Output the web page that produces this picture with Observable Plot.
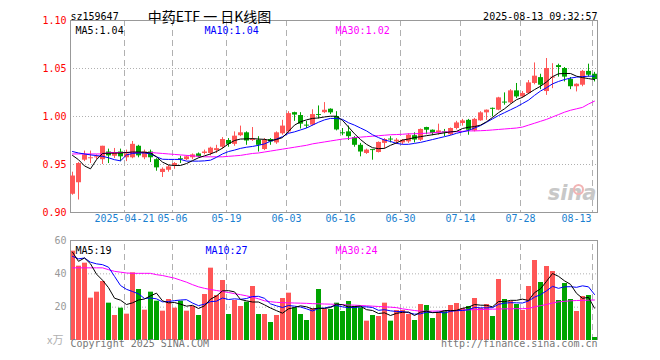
<!DOCTYPE html>
<html><head><meta charset="utf-8">
<script src="https://cdn.jsdelivr.net/npm/d3@7"></script>
<script src="https://cdn.jsdelivr.net/npm/@observablehq/plot@0.6"></script>
<style>
body{margin:0;background:#fff;}
#chart{position:relative;width:660px;height:360px;overflow:hidden;background:#fff;}
#chart svg{position:absolute;left:0;overflow:visible;}
</style></head><body><div id="chart"></div>
<script>
const dates = ["04-08","04-09","04-10","04-11","04-14","04-15","04-16","04-17","04-18","04-21","04-22","04-23","04-24","04-25","04-28","04-29","04-30",
"05-06","05-07","05-08","05-09","05-12","05-13","05-14","05-15","05-16","05-19","05-20","05-21","05-22","05-23","05-26","05-27","05-28","05-29","05-30",
"06-03","06-04","06-05","06-06","06-09","06-10","06-11","06-12","06-13","06-16","06-17","06-18","06-19","06-20","06-23","06-24","06-25","06-26","06-27","06-30",
"07-01","07-02","07-03","07-04","07-07","07-08","07-09","07-10","07-11","07-14","07-15","07-16","07-17","07-18","07-21","07-22","07-23","07-24","07-25","07-28","07-29","07-30","07-31",
"08-01","08-04","08-05","08-06","08-07","08-08","08-11","08-12","08-13"];

const open = [0.919,0.931,0.9545,0.956,0.957,0.955,0.963,0.9586,0.963,0.957,
0.957,0.969,0.957,0.963,0.955,0.9417,0.944,0.949,0.956,0.955,
0.957,0.961,0.9615,0.9615,0.9645,0.968,0.975,0.971,0.980,0.983,
0.975,0.9753,0.9656,0.976,0.9725,0.982,0.984,1.004,1.001,0.991,
0.991,1.002,1.004,1.0076,1.000,0.983,0.984,0.978,0.970,0.9615,
0.9655,0.9625,0.972,0.9765,0.9736,0.9725,0.9736,0.980,0.9753,0.9885,
0.9857,0.983,0.984,0.981,0.9875,0.9927,0.996,0.985,0.9955,1.0038,
1.0085,1.0066,1.015,1.0142,1.0267,1.0204,1.024,1.0344,1.0405,1.026,
1.040,1.053,1.050,1.0385,1.031,1.0326,1.047,1.044];
const high = [0.942,0.952,0.964,0.964,0.960,0.969,0.966,0.9667,0.966,0.965,
0.974,0.970,0.965,0.965,0.956,0.9465,0.949,0.952,0.9586,0.959,
0.961,0.962,0.965,0.968,0.970,0.978,0.977,0.984,0.990,0.984,
0.9885,0.979,0.977,0.977,0.984,0.996,1.005,1.0045,1.004,0.995,
1.007,1.011,1.0145,1.008,1.005,0.9875,0.990,0.979,0.972,0.966,
0.9655,0.9735,0.977,0.979,0.977,0.976,0.982,0.983,0.987,0.9888,
0.986,0.992,0.9865,0.988,0.995,0.997,0.997,0.998,1.005,1.0068,
1.0088,1.020,1.0246,1.028,1.0344,1.026,1.0375,1.0558,1.044,1.0604,
1.055,1.0545,1.051,1.0406,1.034,1.048,1.0545,1.046];
const low = [0.918,0.913,0.953,0.951,0.955,0.950,0.951,0.9563,0.953,0.953,
0.956,0.957,0.955,0.952,0.943,0.9365,0.942,0.945,0.951,0.954,
0.955,0.957,0.960,0.959,0.9615,0.966,0.968,0.969,0.979,0.970,
0.974,0.963,0.9645,0.970,0.971,0.9805,0.982,0.995,0.987,0.9875,
0.990,0.9975,1.003,1.002,0.985,0.980,0.975,0.968,0.958,0.9605,
0.9545,0.962,0.966,0.9725,0.971,0.9705,0.972,0.9725,0.974,0.981,
0.980,0.9805,0.979,0.980,0.986,0.990,0.9805,0.984,0.995,0.996,
0.9996,1.006,1.0118,1.013,1.0187,1.019,1.023,1.033,1.028,1.022,
1.029,1.041,1.036,1.028,1.0256,1.031,1.041,1.036];
const close = [0.938,0.951,0.960,0.957,0.958,0.969,0.959,0.9614,0.958,0.961,
0.971,0.959,0.963,0.957,0.9465,0.945,0.9475,0.951,0.955,0.958,
0.960,0.958,0.963,0.967,0.9665,0.976,0.971,0.9795,0.983,0.9745,
0.976,0.970,0.9753,0.9735,0.983,0.990,1.003,1.0015,0.992,0.990,
1.002,1.001,1.0065,1.0038,0.986,0.982,0.979,0.970,0.963,0.965,
0.9645,0.973,0.976,0.9755,0.9753,0.9753,0.9805,0.9755,0.9865,0.9857,
0.9823,0.985,0.983,0.9875,0.9933,0.9954,0.9857,0.997,1.0038,1.0066,
1.0075,1.0194,1.014,1.0267,1.0204,1.024,1.035,1.042,1.0326,1.050,
1.041,1.051,1.041,1.031,1.0336,1.047,1.043,1.0385];

const ma5 = [0.9595,0.955,0.9485,0.9455,0.955,0.9615,0.9618,0.9618,0.962,0.9625,0.963,0.963,0.9628,0.962,0.958,0.9525,0.9495,0.949,0.949,0.951,0.954,0.957,
0.959,0.961,0.9635,0.967,0.9715,0.975,0.9765,0.9767,0.977,0.9765,0.9762,0.975,0.976,0.978,0.9845,0.991,0.9945,0.9965,0.998,0.9985,0.9995,1.0003,1.0003,0.996,0.989,0.982,0.976,0.971,0.9675,0.9665,0.9668,0.970,0.9725,
0.9755,0.9765,0.978,0.979,0.980,0.981,0.982,0.983,0.984,0.9845,0.9875,
0.9888,0.9895,0.991,0.9945,0.999,1.004,1.008,1.013,1.0175,1.020,1.024,1.028,1.0315,1.036,1.0415,1.0445,1.0448,1.0448,1.042,1.0405,1.0395,1.0385];
const ma10 = [0.9635,0.962,0.961,0.960,0.9593,0.9585,0.957,0.955,0.9538,0.960,0.9615,0.962,0.962,0.961,0.958,0.9555,0.9553,0.9553,0.9553,0.9535,0.9535,0.9535,
0.9538,0.9545,0.9575,0.961,0.9635,0.965,0.9668,0.968,0.9688,0.970,0.9715,0.9742,0.9765,0.979,0.9825,0.984,0.986,0.988,0.991,0.994,0.9965,0.998,0.998,0.997,0.9935,0.991,0.988,0.985,0.981,0.978,0.9755,0.974,0.972,
0.971,0.971,0.972,0.973,0.9745,0.976,0.9775,0.979,0.9805,0.9825,0.984,
0.9855,0.988,0.9905,0.994,0.9975,1.001,1.004,1.007,1.010,1.0135,1.017,1.022,1.0265,1.030,1.034,1.0365,1.0385,1.040,1.041,1.0415,1.042,1.042];
const ma30 = [0.961,0.961,0.961,0.961,0.961,0.961,0.9625,0.9625,0.9625,0.9625,0.9625,0.9625,0.9625,0.9625,0.962,0.9615,0.961,0.9605,0.960,0.9595,0.959,0.9585,
0.958,0.958,0.958,0.958,0.9585,0.959,0.9595,0.9605,0.9615,0.962,0.963,0.964,0.965,0.966,0.967,0.968,0.969,0.970,0.9715,0.9725,0.9735,0.9745,0.9755,0.9765,0.977,0.978,0.9785,0.979,0.9795,0.980,0.9805,0.981,0.9812,
0.9815,0.982,0.982,0.9823,0.9826,0.983,0.9835,0.984,0.984,0.9842,0.9845,
0.985,0.985,0.9852,0.9855,0.986,0.9865,0.987,0.9875,0.988,0.989,0.991,0.993,0.995,0.997,0.9995,1.002,1.0045,1.0065,1.008,1.0095,1.013,1.016];

const volume = [53.6,44.6,46.4,25.4,29.0,35.4,22.4,15.0,19.4,15.8,
40.6,30.6,18.2,29.0,23.6,17.6,24.6,19.4,23.6,17.6,
20.4,15.0,27.6,43.4,27.0,36.0,15.6,24.0,20.4,23.0,
32.4,15.6,15.6,10.8,15.0,25.2,28.4,19.6,15.6,12.0,
19.0,30.6,18.6,18.6,22.4,17.4,23.4,20.4,19.6,11.6,
15.0,14.4,22.4,11.6,18.0,18.0,15.6,12.0,21.6,21.0,
13.2,16.8,17.4,21.0,22.2,19.2,20.4,25.2,19.2,21.6,
14.4,36.6,24.6,23.4,21.6,18.0,32.4,48.0,34.8,44.4,
41.4,24.0,34.2,24.6,17.4,26.4,27.0,1.8];
const vma5 = [53,47.5,49.5,46,39.8,36.2,31.7,25.4,24.2,21.6,
22.6,24.3,24.9,26.8,28.4,23.8,22.6,22.8,21.8,20.6,
21.1,19.2,20.8,24.8,26.7,29.8,29.9,29.2,24.6,23.8,
23.1,23.1,21.4,19.5,17.9,16.4,19,19.8,20.8,20.2,
18.9,19.4,19.2,19.8,21.8,21.5,20.1,20.4,20.6,18.5,
18,16.2,16.6,15,16.3,16.9,17.1,15,17,17.6,
16.7,16.9,18,17.9,18.1,19.3,20,21.6,21.2,21.1,
20.2,23.4,23.3,24.1,24.1,24.8,24,28.7,31,35.5,
40.2,38.5,35.8,33.7,28.3,25.3,25.9,19.4];
const vma10 = [50.5,49,49.5,47,46,45.5,44,38.5,33,30.7,
29.4,28,25.2,25.5,25,23.2,23.4,23.9,24.3,24.5,
22.5,20.9,21.8,23.3,23.6,25.5,24.6,25,24.7,25.2,
26.4,26.5,25.3,22,20.8,19.8,21,20.6,20.1,19,
17.7,19.2,19.5,20.3,21,20.2,19.7,19.8,20.2,20.2,
19.8,18.1,18.5,17.8,17.4,17.4,16.7,15.8,16,17,
16.8,17,16.5,17.5,17.9,18,18.5,19.8,19.6,19.6,
19.7,21.7,22.4,22.7,22.6,22.5,23.7,26,27.5,29.8,
32.5,31.3,32.2,32.3,31.9,32.8,32.2,27.6];
const vma30 = [43.6,43.6,43.6,43.6,43.6,43.6,42.5,41.5,41,40.5,
40.3,40.3,40.3,40.3,39.5,39,38.2,37.4,36.2,35,
33.5,32.2,31.3,30.6,30,29.4,28.8,28.1,27.5,26.8,
26,25,23.8,23.3,22.9,22.7,22.6,22.5,22.4,22.3,
22.1,22,21.9,21.8,21.7,21.5,21.3,21.2,21,20.8,
20.6,20.4,20.2,20,19.7,19,18.5,18,17.6,17.6,
17.6,17.7,17.8,17.9,18,18.2,18.4,18.5,18.6,18.7,
18.8,18.9,19,19,19.1,19.1,19.2,20.2,20.9,21.6,
22.5,23.2,23.5,23.8,24,24.1,24.2,24.3];

const tickDates = ["04-21","05-06","05-19","06-03","06-16","06-30","07-14","07-28","08-13"];
const tickLabels = ["2025-04-21","05-06","05-19","06-03","06-16","06-30","07-14","07-28","08-13"];
const priceTicks = [0.90,0.95,1.00,1.05,1.10];
const priceGrid = [0.95,1.00,1.05];
const volTicks = [60,40,20];
const volGrid = [20,40];

const UP = "#ff5656", DOWN = "#00a400";
const rows = dates.map((d,i)=>({date:d, open:open[i], high:high[i], low:low[i], close:close[i],
  ma5:ma5[i], ma10:ma10[i], ma30:ma30[i], vol:volume[i], vma5:vma5[i], vma10:vma10[i], vma30:vma30[i],
  color: close[i] >= open[i] ? UP : DOWN}));

const MONO = "DejaVu Sans Mono";
const CJK = "Noto Sans CJK SC";
const last = a => a[a.length-1];
const GRID = "#b0b0b0", BORDER = "#999";
const innerTicks = tickDates.slice(0, -1);
const innerLabels = tickLabels.slice(0, -1);

const xOpt = {type:"band", domain:dates, range:[69,597], padding:0, axis:null};

const main = Plot.plot({
  width:660, height:230, marginTop:20, marginBottom:18, marginLeft:70, marginRight:63,
  style:{fontFamily:MONO, fontSize:"10px", background:"transparent", overflow:"visible"},
  x:xOpt,
  y:{domain:[0.9,1.1], axis:null},
  color:{type:"identity"},
  marks:[
    Plot.ruleY(priceGrid, {y:d=>d, stroke:GRID, strokeDasharray:"1,2"}),
    Plot.ruleX(tickDates, {x:d=>d, dx:-2, stroke:GRID, strokeDasharray:"6,4"}),
    Plot.frame({stroke:BORDER}),
    Plot.text(["sina"], {frameAnchor:"bottom-right", textAnchor:"end", dx:-1, dy:-13, fontFamily:"Liberation Sans Narrow, DejaVu Sans", fontSize:21, fontWeight:"bold", fontStyle:"italic", fill:"#c8c8c8"}),
    Plot.dot([0], {frameAnchor:"bottom-right", dx:-19, dy:-23, r:4.5, stroke:"#f2b4b4", strokeWidth:2, fill:"none"}),
    Plot.ruleX(rows, {x:"date", y1:"low", y2:"high", stroke:"color"}),
    Plot.barY(rows, {x:"date", y1:"open", y2:"close", fill:"color", insetLeft:1, insetRight:0}),
    Plot.lineY(rows, {x:"date", y:"ma30", stroke:"#ff00ff", strokeWidth:1}),
    Plot.lineY(rows, {x:"date", y:"ma10", stroke:"#0000ff", strokeWidth:1}),
    Plot.lineY(rows, {x:"date", y:"ma5", stroke:"#000", strokeWidth:1}),
    Plot.text(priceTicks, {y:d=>d, text:d=>d.toFixed(2), frameAnchor:"left", textAnchor:"end", dx:-4, fill:"#f00"}),
    Plot.text(innerTicks, {x:d=>d, text:(d,i)=>innerLabels[i], frameAnchor:"bottom", dx:-2, dy:9.5, fill:"#1a7fd0"}),
    Plot.text([last(tickDates)], {x:d=>d, text:()=>last(tickLabels), frameAnchor:"bottom", textAnchor:"end", dx:-3, dy:9.5, fill:"#1a7fd0"}),
    Plot.text(["MA5:" + last(ma5).toFixed(2)], {frameAnchor:"top-left", textAnchor:"start", dx:5, dy:6.5, fill:"#000"}),
    Plot.text(["MA10:" + last(ma10).toFixed(2)], {frameAnchor:"top-left", textAnchor:"start", dx:134, dy:6.5, fill:"#0000ff"}),
    Plot.text(["MA30:" + last(ma30).toFixed(2)], {frameAnchor:"top-left", textAnchor:"start", dx:265, dy:6.5, fill:"#ff00ff"}),
    Plot.text(["sz159647"], {frameAnchor:"top-left", textAnchor:"start", dy:-7.5, fill:"#000"}),
    Plot.text(["中药ETF 一 日K线图"], {frameAnchor:"top-left", textAnchor:"middle", dx:139, dy:-8.5, fontFamily:CJK, fontSize:14, fill:"#000"}),
    Plot.text(["2025-08-13 09:32:57"], {frameAnchor:"top-right", textAnchor:"end", dy:-7.5, fill:"#000"})
  ]
});
main.style.top = "0px";

const vol = Plot.plot({
  width:660, height:130, marginTop:10, marginBottom:20, marginLeft:70, marginRight:63,
  style:{fontFamily:MONO, fontSize:"10px", background:"transparent", overflow:"visible"},
  x:xOpt,
  y:{domain:[0,60], axis:null},
  color:{type:"identity"},
  marks:[
    Plot.ruleY(volGrid, {y:d=>d, stroke:GRID, strokeDasharray:"1,2"}),
    Plot.ruleX(tickDates, {x:d=>d, dx:-2, y1:0, y2:60, stroke:GRID, strokeDasharray:"6,4"}),
    Plot.barY(rows, {x:"date", y:"vol", fill:"color", insetLeft:1, insetRight:0}),
    Plot.lineY(rows, {x:"date", y:"vma30", stroke:"#ff00ff", strokeWidth:1}),
    Plot.lineY(rows, {x:"date", y:"vma10", stroke:"#0000ff", strokeWidth:1}),
    Plot.lineY(rows, {x:"date", y:"vma5", stroke:"#000", strokeWidth:1}),
    Plot.ruleY([60], {stroke:BORDER}),
    Plot.ruleX([dates[0]], {x:d=>d, dx:-2, y1:0, y2:60, stroke:BORDER}),
    Plot.ruleX([last(dates)], {x:d=>d, dx:3, y1:0, y2:60, stroke:BORDER}),
    Plot.text(volTicks, {y:d=>d, text:d=>String(d), frameAnchor:"left", textAnchor:"end", dx:-4, fill:"#999"}),
    Plot.text(["x万"], {y:()=>0, frameAnchor:"left", textAnchor:"end", dx:-7, fontFamily:CJK, fontSize:11, fill:"#b0b0b0"}),
    Plot.text(["MA5:" + Math.floor(last(vma5))], {frameAnchor:"top-left", textAnchor:"start", dx:5, dy:6, fill:"#000"}),
    Plot.text(["MA10:" + Math.floor(last(vma10))], {frameAnchor:"top-left", textAnchor:"start", dx:135, dy:6, fill:"#0000ff"}),
    Plot.text(["MA30:" + Math.floor(last(vma30))], {frameAnchor:"top-left", textAnchor:"start", dx:265, dy:6, fill:"#ff00ff"}),
    Plot.text(["Copyright 2025 SINA.COM"], {frameAnchor:"bottom-left", textAnchor:"start", dy:6, fill:"#777"}),
    Plot.text(["http://finance.sina.com.cn"], {frameAnchor:"bottom-right", textAnchor:"end", dy:6, fill:"#777"})
  ]
});
vol.style.top = "230px";

const root = document.getElementById("chart");
root.appendChild(main);
root.appendChild(vol);
</script></body></html>
